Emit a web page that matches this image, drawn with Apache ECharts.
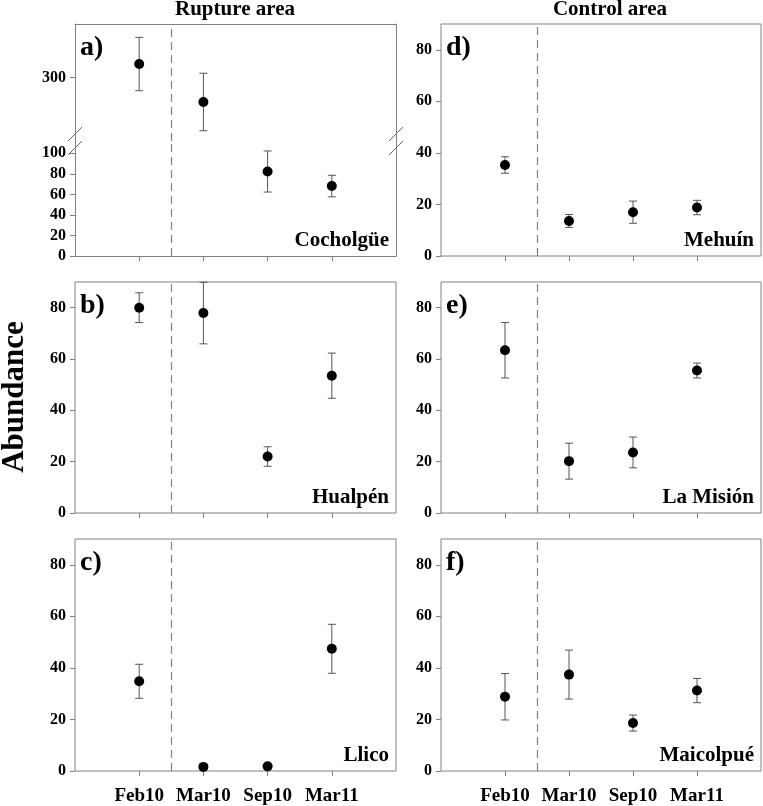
<!DOCTYPE html>
<html>
<head>
<meta charset="utf-8">
<script src="https://cdn.jsdelivr.net/npm/echarts@6/dist/echarts.min.js"></script>
<style>
  html, body { margin: 0; padding: 0; background: #fff; }
  #chart { width: 763px; height: 806px; }
</style>
</head>
<body>
<div id="chart"></div>
<script>
(function () {
  'use strict';

  // data (mean +/- error)
  var categories = ['Feb10', 'Mar10', 'Sep10', 'Mar11'];
  var cocholgueMean = [313, 276, 82.3, 68.1];
  var cocholgueErr = [26, 28, 20, 10.5];
  var hualpenMean = [80, 77.9, 22, 53.5];
  var hualpenErr = [5.8, 12, 3.8, 8.8];
  var llicoMean = [34.8, 1.6, 1.8, 47.4];
  var llicoErr = [6.6, 0, 0, 9.5];
  var mehuinMean = [35.3, 13.6, 17, 18.8];
  var mehuinErr = [3.2, 2.5, 4.3, 2.8];
  var misionMean = [63.4, 20.2, 23.6, 55.5];
  var misionErr = [10.8, 7, 6, 2.9];
  var maicolpueMean = [28.8, 37.4, 18.6, 31.2];
  var maicolpueErr = [9, 9.5, 3.1, 4.7];
  var yTicks = [0, 20, 40, 60, 80];
  var yTicksLow = [0, 20, 40, 60, 80, 100];
  var yTicksHigh = [300];
  var eventPos = 1.5; // earthquake, between Feb10 and Mar10

  var FONT = 'Liberation Serif';
  var frameColor = '#808080';
  var colLeft = [75, 441], colWidth = [321, 320];
  var rowTop = [24, 282, 539], rowHeight = [232, 231, 232];

  var grids = [], xAxes = [], yAxes = [], series = [], graphics = [];
  var xTickVals = categories.map(function (c, i) { return i + 1; });

  function xAxis(gi, opt) {
    return {
      type: 'value', gridIndex: gi, min: 0, max: 5, position: opt.position || 'bottom',
      axisLine: { show: !!opt.line, lineStyle: { color: frameColor, width: 1 } },
      axisTick: { show: !!opt.ticks, customValues: xTickVals, length: 5, lineStyle: { color: frameColor } },
      axisLabel: {
        show: !!opt.labels, customValues: xTickVals, margin: 16,
        fontFamily: FONT, fontWeight: 'bold', fontSize: 19, color: '#000',
        formatter: function (v) { return categories[Math.round(v) - 1] || ''; }
      },
      splitLine: { show: false }
    };
  }

  function yAxis(gi, min, max, ticks, opt) {
    return {
      type: 'value', gridIndex: gi, min: min, max: max, position: opt.position || 'left',
      axisLine: { show: !!opt.line, lineStyle: { color: frameColor, width: 1 } },
      axisTick: { show: !!ticks, customValues: ticks || [], length: 5, lineStyle: { color: frameColor } },
      axisLabel: {
        show: !!ticks, customValues: ticks || [], margin: 9,
        fontFamily: FONT, fontWeight: 'bold', fontSize: 16, color: '#000'
      },
      splitLine: { show: false }
    };
  }

  function errorItem(params, api) {
    var x = api.value(0);
    var top = api.coord([x, api.value(2)]);
    var bot = api.coord([x, api.value(1)]);
    var hw = 4;
    var st = { stroke: '#555', lineWidth: 1 };
    return {
      type: 'group',
      children: [
        { type: 'line', shape: { x1: top[0], y1: top[1], x2: bot[0], y2: bot[1] }, style: st },
        { type: 'line', shape: { x1: top[0] - hw, y1: top[1], x2: top[0] + hw, y2: top[1] }, style: st },
        { type: 'line', shape: { x1: bot[0] - hw, y1: bot[1], x2: bot[0] + hw, y2: bot[1] }, style: st }
      ]
    };
  }

  function addSeries(ai, mean, err, keep) {
    var pts = [], bars = [];
    mean.forEach(function (m, i) {
      if (!keep(m)) return;
      pts.push([i + 1, m]);
      if (err[i] > 0) bars.push([i + 1, m - err[i], m + err[i]]);
    });
    series.push({
      type: 'custom', xAxisIndex: ai, yAxisIndex: ai, renderItem: errorItem,
      data: bars, z: 2, silent: true, clip: false
    });
    series.push({
      type: 'scatter', xAxisIndex: ai, yAxisIndex: ai, data: pts,
      symbol: 'circle', symbolSize: 10, itemStyle: { color: '#000', opacity: 1 }, z: 3,
      markLine: {
        silent: true, symbol: 'none', label: { show: false },
        lineStyle: { color: frameColor, type: [8, 5], width: 1.2 },
        data: [{ xAxis: eventPos }]
      }
    });
  }

  function addText(x, y, text, size, align, vAlign, rot) {
    graphics.push({
      type: 'text', x: x, y: y, rotation: rot || 0,
      style: {
        text: text, fill: '#000', fontFamily: FONT, fontWeight: 'bold', fontSize: size,
        textAlign: align, textVerticalAlign: vAlign
      }
    });
  }

  // regular panels
  var panels = [
    { col: 0, row: 1, mean: hualpenMean, err: hualpenErr, letter: 'b)', site: 'Hualpén' },
    { col: 0, row: 2, mean: llicoMean, err: llicoErr, letter: 'c)', site: 'Llico' },
    { col: 1, row: 0, mean: mehuinMean, err: mehuinErr, letter: 'd)', site: 'Mehuín' },
    { col: 1, row: 1, mean: misionMean, err: misionErr, letter: 'e)', site: 'La Misión' },
    { col: 1, row: 2, mean: maicolpueMean, err: maicolpueErr, letter: 'f)', site: 'Maicolpué' }
  ];

  panels.forEach(function (p) {
    var gi = grids.length;
    grids.push({
      left: colLeft[p.col], width: colWidth[p.col], top: rowTop[p.row], height: rowHeight[p.row],
      show: true, borderColor: frameColor, borderWidth: 1, backgroundColor: 'transparent'
    });
    xAxes.push(xAxis(gi, { ticks: true, labels: p.row === 2 }));
    yAxes.push(yAxis(gi, 0, 90, yTicks, {}));
    addSeries(gi, p.mean, p.err, function () { return true; });
  });

  // panel a: broken axis, two stacked grids
  var aTopH = 117, aLowH = rowHeight[0] - aTopH;
  var giHigh = grids.length;
  grids.push({ left: colLeft[0], width: colWidth[0], top: rowTop[0], height: aTopH });
  xAxes.push(xAxis(giHigh, { position: 'top', line: true }));
  yAxes.push(yAxis(giHigh, 238, 352, yTicksHigh, { line: true }));
  addSeries(giHigh, cocholgueMean, cocholgueErr, function (m) { return m > 150; });

  var giLow = grids.length;
  grids.push({ left: colLeft[0], width: colWidth[0], top: rowTop[0] + aTopH, height: aLowH });
  xAxes.push(xAxis(giLow, { line: true, ticks: true }));
  yAxes.push(yAxis(giLow, 0, 112, yTicksLow, { line: true }));
  addSeries(giLow, cocholgueMean, cocholgueErr, function (m) { return m <= 150; });

  // right-hand frame lines of panel a
  yAxes.push(yAxis(giHigh, 238, 352, null, { line: true, position: 'right' }));
  yAxes.push(yAxis(giLow, 0, 112, null, { line: true, position: 'right' }));

  // break marks on panel a
  var brY = rowTop[0] + aTopH;
  [colLeft[0], colLeft[0] + colWidth[0]].forEach(function (bx) {
    [-7, 7].forEach(function (dy) {
      graphics.push({
        type: 'line',
        shape: { x1: bx - 7, y1: brY + dy + 7, x2: bx + 7, y2: brY + dy - 7 },
        style: { stroke: '#666', lineWidth: 1 }
      });
    });
  });

  // panel letters and site names
  var allLabels = [{ col: 0, row: 0, letter: 'a)', site: 'Cocholgüe' }].concat(panels);
  allLabels.forEach(function (p) {
    var left = colLeft[p.col], right = left + colWidth[p.col];
    var top = rowTop[p.row], bottom = top + rowHeight[p.row];
    addText(left + 5, top + 24, p.letter, 28, 'left', 'middle');
    addText(right - 7, bottom - 15, p.site, 21, 'right', 'middle');
  });

  addText(235, 10, 'Rupture area', 21, 'center', 'middle');
  addText(610, 10, 'Control area', 21, 'center', 'middle');
  addText(15, 397, 'Abundance', 31, 'center', 'middle', Math.PI / 2);

  var myChart = echarts.init(document.getElementById('chart'));
  myChart.setOption({
    animation: false,
    grid: grids,
    xAxis: xAxes,
    yAxis: yAxes,
    series: series,
    graphic: graphics
  });
  window.addEventListener('resize', function () {
    myChart.resize();
  });
})();
</script>
</body>
</html>
